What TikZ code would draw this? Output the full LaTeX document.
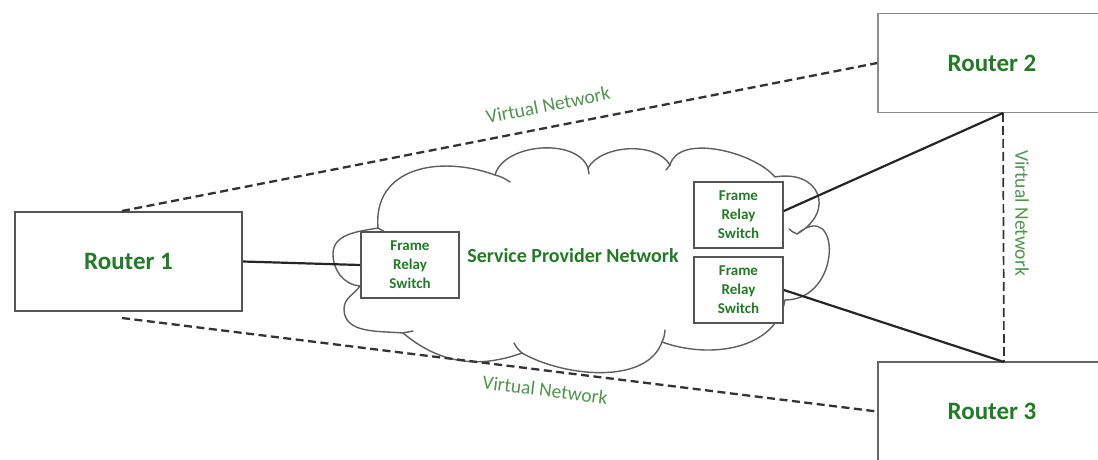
\documentclass[tikz,border=0pt]{standalone}
\usepackage{fontspec}
\setmainfont{Carlito}
\definecolor{gtext}{RGB}{36,122,40}
\definecolor{vtext}{RGB}{80,148,80}
\definecolor{boxline}{RGB}{85,85,85}
\definecolor{cloudline}{RGB}{95,95,95}
\begin{document}
\begin{tikzpicture}[x=1pt,y=1pt,
  router/.style={draw=boxline,line width=1.8pt,fill=white,minimum height=99pt,
    inner sep=0pt,font=\fontsize{25}{30}\selectfont\bfseries,text=gtext},
  switchbox/.style={draw=boxline,line width=1.7pt,fill=white,minimum height=66pt,
    inner sep=0pt,align=center,font=\fontsize{15}{19}\selectfont\bfseries,text=gtext},
  vnet/.style={font=\fontsize{19.5}{22}\selectfont,text=vtext,inner sep=1pt},
  conn/.style={line width=2.2pt,black!85},
  vdash/.style={line width=2.3pt,black!80,dash pattern=on 8pt off 4.5pt},
  vdashv/.style={line width=1.7pt,black!80,dash pattern=on 9pt off 4pt},
  cloudedge/.style={draw=cloudline,line width=1.4pt,fill=white},
  hook/.style={draw=cloudline,line width=1.4pt,line cap=round}]
\useasboundingbox (0,0) rectangle (1098,459);

% cloud
\path[cloudedge] (360,173) to[out=175,in=-90] (333,205) to[out=90,in=190] (378,231)
 to[out=95,in=160,looseness=1.2] (495,284)
 to[out=75,in=110,looseness=0.9] (588,291)
 to[out=60,in=120,looseness=0.85] (670,294)
 to[out=75,in=130,looseness=0.8] (775,282)
 to[out=10,in=30,looseness=1.9] (797,225)
 to[out=40,in=0,looseness=2.2] (785,159)
 to[out=-100,in=-20,looseness=1] (662,117)
 to[out=-110,in=-30,looseness=0.85] (522,106)
 to[out=-160,in=-40,looseness=1] (403,126)
 to[out=175,in=-90] (344,150) to[out=90,in=235] (360,173) -- cycle;
% small inner hooks of the cloud
\path[hook] (495,284) to[bend left=10] (510,277);
\path[hook] (588,291) -- (589,285);
\path[hook] (670,294) to[bend right=10] (666,289);
\path[hook] (403,126) -- (413,128);
\path[hook] (522,106) to[bend left=10] (514,116);
\path[hook] (662,117) to[bend right=10] (665,129);
\path[hook] (360,173) -- (368,177);
\path[hook] (378,231) -- (385,227);
\path[hook] (797,225) to[bend left=10] (789,230);

% routers
\node[router,minimum width=227pt] (r1) at (128.5,197.5) {Router 1};
\node[router,minimum width=228pt,draw=black!45,line width=1.4pt] (r2) at (992,396) {Router 2};
\node[router,minimum width=228pt,draw=black!60] (r3) at (992,47.5) {Router 3};

% switches
\node[switchbox,minimum width=98pt] (s1) at (410,194) {Frame\\Relay\\Switch};
\node[switchbox,minimum width=89pt] (s2) at (738.5,244) {Frame\\Relay\\Switch};
\node[switchbox,minimum width=89pt] (s3) at (738.5,169) {Frame\\Relay\\Switch};

\node[font=\fontsize{20}{24}\selectfont\bfseries,text=gtext] (spn) at (573,203) {Service Provider Network};

% junctions and dashed starts
\coordinate (j2) at (1003,346);
\coordinate (j3) at (1004,97);
\coordinate (d1) at (122,248);
\coordinate (d2) at (122,141);

% virtual network dashed links
\draw[vdash] (d1) -- (r2.west);
\draw[vdash] (d2) -- (r3.west);
\draw[vdashv] (j2) -- (j3);

% physical links
\draw[conn] (r1.east) -- (s1.west);
\draw[conn] ([yshift=4pt]s2.east) -- (j2);
\draw[conn] (s3.east) -- (j3);

% labels
\node[vnet,rotate=11.3] (vn1) at (548,354) {Virtual Network};
\node[vnet,rotate=-7.1] (vn2) at (545,69) {Virtual Network};
\node[vnet,rotate=-90] (vn3) at (1022,246) {Virtual Network};
\end{tikzpicture}
\end{document}
